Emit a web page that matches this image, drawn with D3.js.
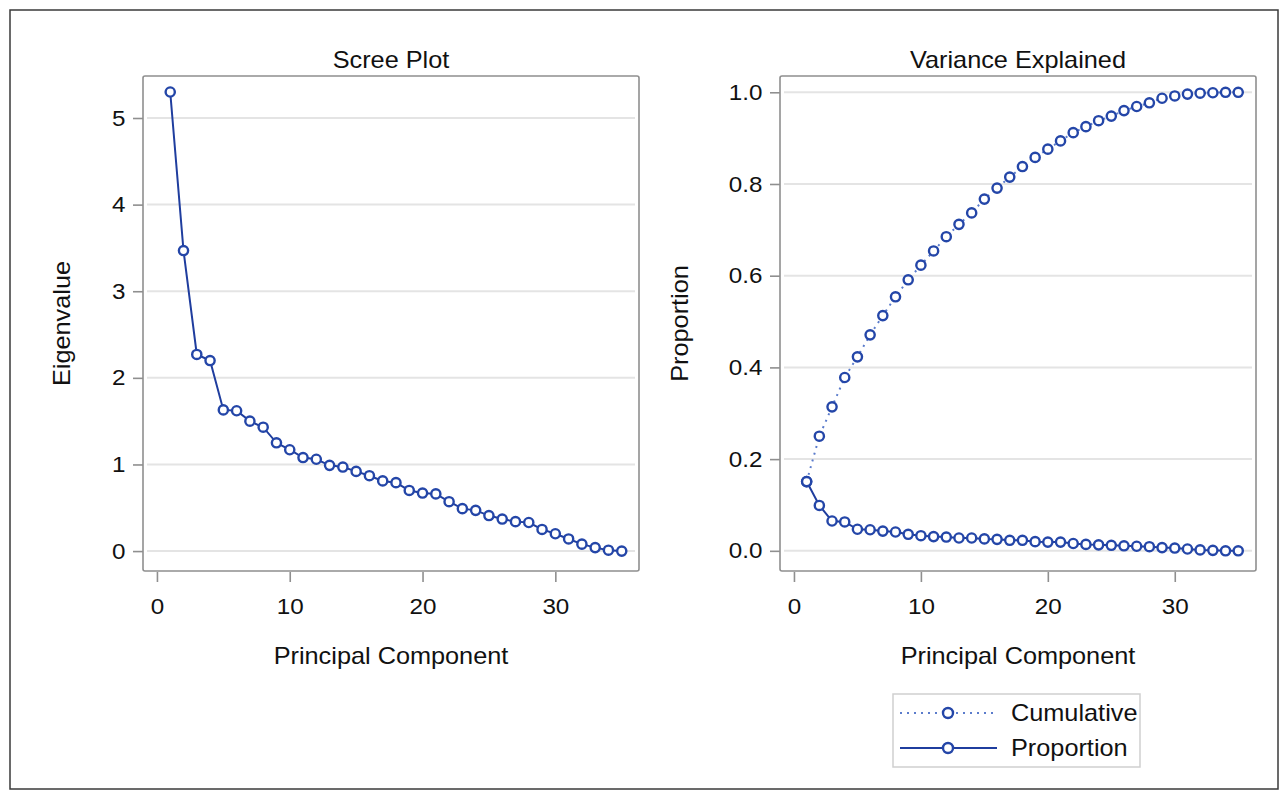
<!DOCTYPE html>
<html>
<head>
<meta charset="utf-8">
<script src="https://cdn.jsdelivr.net/npm/d3@7"></script>
<style>
  body { margin: 0; background: #fff; }
  text { font-family: "Liberation Sans", Arial, sans-serif; fill: #111; }
</style>
</head>
<body>
<div id="chart"></div>
<script>
// data
var components = [1,2,3,4,5,6,7,8,9,10,11,12,13,14,15,16,17,18,19,20,21,22,23,24,25,26,27,28,29,30,31,32,33,34,35];
var eigenvalues = [5.30,3.47,2.27,2.20,1.63,1.62,1.50,1.43,1.25,1.17,1.08,1.06,0.99,0.97,0.92,0.87,0.81,0.79,0.70,0.67,
                   0.66,0.57,0.49,0.47,0.41,0.37,0.34,0.33,0.25,0.20,0.14,0.08,0.04,0.01,0.00];
var proportion = [0.151,0.099,0.065,0.063,0.047,0.046,0.043,0.041,0.036,0.033,0.031,0.030,0.028,0.028,0.026,0.025,0.023,0.023,0.020,0.019,
                  0.019,0.016,0.014,0.013,0.012,0.011,0.010,0.009,0.007,0.006,0.004,0.002,0.001,0.000,0.000];
var cumulative = [0.151,0.250,0.314,0.378,0.423,0.471,0.513,0.554,0.591,0.623,0.654,0.685,0.712,0.737,0.767,0.791,0.815,0.838,0.858,0.876,
                  0.894,0.912,0.925,0.938,0.948,0.960,0.969,0.977,0.987,0.992,0.996,0.998,0.999,1.000,1.000];
var xTicks = [0, 10, 20, 30];
var screeTicks = [0, 1, 2, 3, 4, 5];
var varTicks = [0, 0.2, 0.4, 0.6, 0.8, 1.0];
var legendLabels = ["Cumulative", "Proportion"];

var width = 1288, height = 799;
var dark = "#1f3d9e", light = "#5b7ccc";
var stretch = "scale(1.1,1)"; // the reference font is a bit wide

var svg = d3.select("#chart").append("svg")
  .attr("width", width)
  .attr("height", height);

svg.append("rect")
  .attr("x", 10).attr("y", 10)
  .attr("width", width - 20).attr("height", height - 20)
  .attr("fill", "#fff")
  .attr("stroke", "#3a3a3a")
  .attr("stroke-width", 1.5);

function label(g, x, y, txt, size, rotate) {
  return g.append("text")
    .attr("transform", "translate(" + x + "," + y + ")" + (rotate ? " rotate(-90)" : "") + " " + stretch)
    .attr("text-anchor", "middle")
    .attr("font-size", size)
    .text(txt);
}

function panel(opt) {
  var g = svg.append("g");
  var x = d3.scaleLinear().domain(opt.xDomain).range([opt.left, opt.right]);
  var y = d3.scaleLinear().domain(opt.yDomain).range([opt.bottom, opt.top]);

  // grid
  g.selectAll(".grid")
    .data(opt.yTicks)
    .enter()
    .append("line")
    .attr("x1", opt.left + 4).attr("x2", opt.right - 4)
    .attr("y1", function(d) { return y(d); })
    .attr("y2", function(d) { return y(d); })
    .attr("stroke", "#e4e4e4")
    .attr("stroke-width", 2);

  // frame
  g.append("rect")
    .attr("x", opt.left).attr("y", opt.top)
    .attr("width", opt.right - opt.left).attr("height", opt.bottom - opt.top)
    .attr("rx", 2)
    .attr("fill", "none")
    .attr("stroke", "#8f8f8f")
    .attr("stroke-width", 1.6);

  var ya = g.append("g")
    .attr("transform", "translate(" + opt.left + ",0)")
    .call(d3.axisLeft(y).tickValues(opt.yTicks).tickSize(10).tickPadding(6).tickFormat(opt.yFormat));
  var xa = g.append("g")
    .attr("transform", "translate(0," + (opt.bottom + 1) + ")")
    .call(d3.axisBottom(x).tickValues(xTicks).tickSize(10).tickPadding(16).tickFormat(d3.format("d")));
  [ya, xa].forEach(function(a) {
    a.select(".domain").remove();
    a.selectAll(".tick line").attr("stroke", "#8f8f8f").attr("stroke-width", 1.6);
    a.selectAll(".tick text").attr("font-size", 22).style("fill", "#111")
      .attr("transform", stretch)
      .attr("font-family", "Liberation Sans, Arial, sans-serif");
  });

  label(g, (opt.left + opt.right) / 2, 68, opt.title, 23);
  label(g, (opt.left + opt.right) / 2, 664, "Principal Component", 23);
  label(g, opt.yLabelX, (opt.top + opt.bottom) / 2, opt.yLabel, 23, true);

  return { g: g, x: x, y: y };
}

function series(p, values, color, dash) {
  var line = d3.line()
    .x(function(d, i) { return p.x(components[i]); })
    .y(function(d) { return p.y(d); });
  p.g.append("path")
    .datum(values)
    .attr("d", line)
    .attr("fill", "none")
    .attr("stroke", color)
    .attr("stroke-width", 2)
    .attr("stroke-dasharray", dash);
  p.g.selectAll(null)
    .data(values)
    .enter()
    .append("circle")
    .attr("cx", function(d, i) { return p.x(components[i]); })
    .attr("cy", function(d) { return p.y(d); })
    .attr("r", 4.6)
    .attr("fill", "#fff")
    .attr("stroke", "#2446a8")
    .attr("stroke-width", 2.4);
}

var scree = panel({
  left: 143, right: 639, top: 76, bottom: 571,
  xDomain: [-1.05, 36.3], yDomain: [-0.23, 5.485],
  yTicks: screeTicks, yFormat: d3.format("d"),
  title: "Scree Plot", yLabel: "Eigenvalue", yLabelX: 70
});
series(scree, eigenvalues, dark, null);

var variance = panel({
  left: 780, right: 1256, top: 76, bottom: 571,
  xDomain: [-1.1, 36.4], yDomain: [-0.044, 1.0355],
  yTicks: varTicks, yFormat: d3.format(".1f"),
  title: "Variance Explained", yLabel: "Proportion", yLabelX: 688
});
series(variance, cumulative, light, "2,5");
series(variance, proportion, dark, null);

// legend
var legend = svg.append("g");
legend.append("rect")
  .attr("x", 893).attr("y", 694)
  .attr("width", 247).attr("height", 73)
  .attr("fill", "#fff")
  .attr("stroke", "#cfcfcf")
  .attr("stroke-width", 1.5);

var rows = legend.selectAll(".row")
  .data(legendLabels)
  .enter()
  .append("g")
  .attr("transform", function(d, i) { return "translate(0," + (713 + i * 35) + ")"; });
rows.append("line")
  .attr("x1", 900).attr("x2", 997)
  .attr("stroke", function(d, i) { return i == 0 ? light : dark; })
  .attr("stroke-width", 2)
  .attr("stroke-dasharray", function(d, i) { return i == 0 ? "2,5" : null; });
rows.append("circle")
  .attr("cx", 948).attr("r", 5)
  .attr("fill", "#fff")
  .attr("stroke", "#2446a8")
  .attr("stroke-width", 2.4);
rows.append("text")
  .attr("transform", "translate(1011,8) " + stretch)
  .attr("font-size", 23)
  .text(function(d) { return d; });
</script>
</body>
</html>
